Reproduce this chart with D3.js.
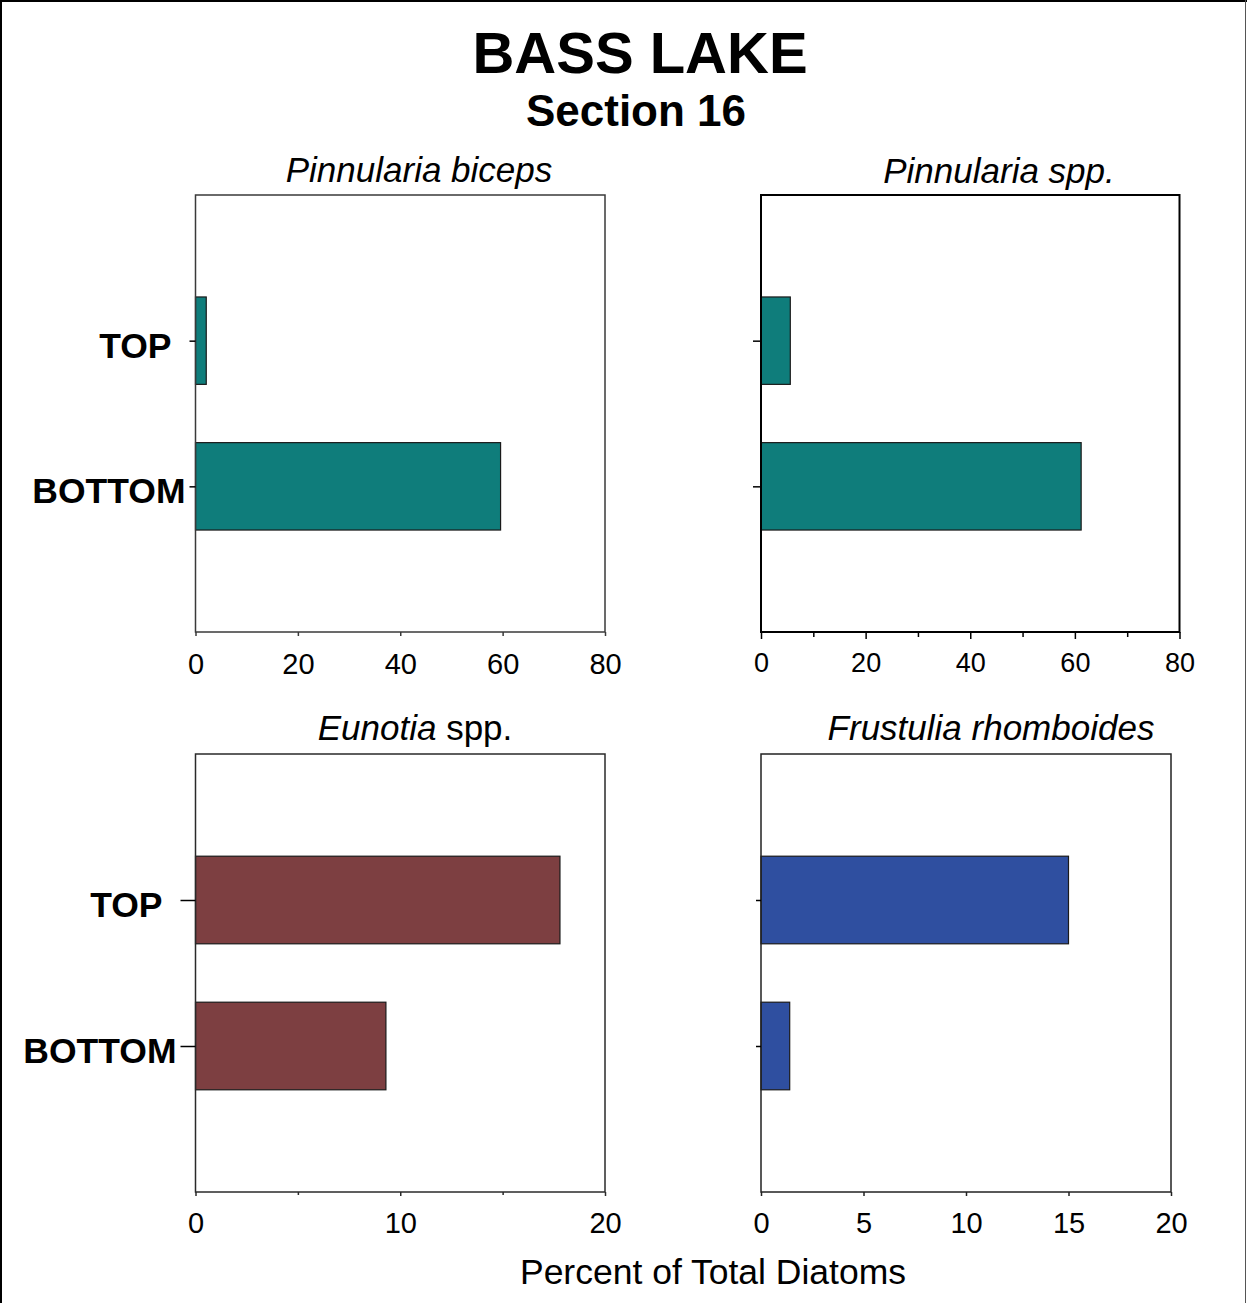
<!DOCTYPE html>
<html>
<head>
<meta charset="utf-8">
<script src="https://cdn.jsdelivr.net/npm/d3@7"></script>
<style>
  html, body { margin: 0; padding: 0; background: #fff; }
  svg { display: block; font-family: "Liberation Sans", Arial, Helvetica, sans-serif; }
</style>
</head>
<body>
<svg id="chart" width="1247" height="1303"></svg>
<script>
// Sample depths (category axis)
const depths = ["TOP", "BOTTOM"];

// Percent of total diatoms for each taxon, in depth order
const pinnulariaBiceps = [2.1, 59.6];
const pinnulariaSpp = [5.6, 61.2];
const eunotiaSpp = [17.8, 9.3];
const frustuliaRhomboides = [15.0, 1.4];

// Axis ticks
const ticks80 = [0, 20, 40, 60, 80];
const minor80 = [10, 30, 50, 70];
const ticks20Coarse = [0, 10, 20];
const minor20Coarse = [5, 15];
const ticks20Fine = [0, 5, 10, 15, 20];

const mainTitle = "BASS LAKE";
const subTitle = "Section 16";
const xAxisTitle = "Percent of Total Diatoms";

const svg = d3.select("#chart");
const W = 1247, H = 1303;

svg.append("rect").attr("width", W).attr("height", H).attr("fill", "#fff");

// page frame
svg.append("line").attr("x1", 1).attr("x2", 1).attr("y1", 0).attr("y2", H)
  .attr("stroke", "#000").attr("stroke-width", 2);
svg.append("line").attr("x1", 0).attr("x2", W).attr("y1", 1).attr("y2", 1)
  .attr("stroke", "#000").attr("stroke-width", 2);
svg.append("line").attr("x1", 1245.5).attr("x2", 1245.5).attr("y1", 0).attr("y2", H)
  .attr("stroke", "#555").attr("stroke-width", 1);

// headings
svg.append("text").attr("x", 640).attr("y", 73).attr("text-anchor", "middle")
  .attr("font-size", 58).attr("font-weight", "bold").text(mainTitle);
svg.append("text").attr("x", 636).attr("y", 126).attr("text-anchor", "middle")
  .attr("font-size", 44).attr("font-weight", "bold").text(subTitle);

const panels = [
  { title: [["Pinnularia biceps", "italic"]], values: pinnulariaBiceps, color: "#0F7D7B",
    x0: 195.5, x1: 605, y0: 195, y1: 632, max: 80, ticks: ticks80, minor: [],
    frame: "#3a3a3a", frameW: 1.5, tickFont: 29, labelY: 674, tickLen: 4, yTickLen: 6,
    showY: true, titleX: 419, titleY: 182 },
  { title: [["Pinnularia spp.", "italic"]], values: pinnulariaSpp, color: "#0F7D7B",
    x0: 761, x1: 1179.5, y0: 195, y1: 632, max: 80, ticks: ticks80, minor: minor80,
    frame: "#000", frameW: 2, tickFont: 27, labelY: 672, tickLen: 7, minorLen: 5, yTickLen: 8,
    showY: false, titleX: 999, titleY: 183 },
  { title: [["Eunotia", "italic"], [" spp.", "normal"]], values: eunotiaSpp, color: "#7D3F41",
    x0: 195.5, x1: 605, y0: 754, y1: 1192, max: 20, ticks: ticks20Coarse, minor: minor20Coarse,
    frame: "#2a2a2a", frameW: 1.5, tickFont: 29, labelY: 1233, tickLen: 4, minorLen: 3, yTickLen: 15,
    showY: true, titleX: 415, titleY: 740 },
  { title: [["Frustulia rhomboides", "italic"]], values: frustuliaRhomboides, color: "#2F4FA0",
    x0: 761, x1: 1171, y0: 754, y1: 1192, max: 20, ticks: ticks20Fine, minor: [],
    frame: "#222", frameW: 1.5, tickFont: 29, labelY: 1233, tickLen: 4, yTickLen: 5,
    showY: false, titleX: 991, titleY: 740 }
];

panels.forEach(p => {
  const g = svg.append("g");
  const x = d3.scaleLinear().domain([0, p.max]).range([p.x0, p.x1]);
  const y = d3.scalePoint().domain(depths).range([p.y0, p.y1]).padding(1);
  const barH = y.step() * 0.6;

  // panel title
  const t = g.append("text").attr("x", p.titleX).attr("y", p.titleY)
    .attr("text-anchor", "middle").attr("font-size", 35);
  p.title.forEach(([s, style]) => t.append("tspan").attr("font-style", style).text(s));

  // bars
  g.selectAll("rect.bar").data(depths.map((d, i) => ({ d, v: p.values[i] })))
    .join("rect").attr("class", "bar")
    .attr("x", x(0))
    .attr("y", d => y(d.d) - barH / 2)
    .attr("width", d => x(d.v) - x(0))
    .attr("height", barH)
    .attr("fill", p.color)
    .attr("stroke", "#1a1a1a").attr("stroke-width", 1.2);

  // plot frame
  g.append("rect").attr("x", p.x0).attr("y", p.y0)
    .attr("width", p.x1 - p.x0).attr("height", p.y1 - p.y0)
    .attr("fill", "none").attr("stroke", p.frame).attr("stroke-width", p.frameW);

  // bottom axis: major ticks
  const xa = g.append("g").attr("transform", `translate(0,${p.y1})`)
    .call(d3.axisBottom(x).tickValues(p.ticks).tickSize(p.tickLen).tickSizeOuter(0)
      .tickFormat(d3.format("d")));
  xa.select(".domain").remove();
  xa.selectAll(".tick line").attr("stroke", p.frame).attr("stroke-width", 1.5);
  xa.selectAll(".tick text").attr("font-size", p.tickFont).attr("fill", "#000")
    .attr("font-family", null).attr("dy", null).attr("y", p.labelY - p.y1);

  // minor ticks
  if (p.minor.length) {
    const xm = g.append("g").attr("transform", `translate(0,${p.y1})`)
      .call(d3.axisBottom(x).tickValues(p.minor).tickSize(p.minorLen).tickFormat(""));
    xm.select(".domain").remove();
    xm.selectAll(".tick line").attr("stroke", p.frame).attr("stroke-width", 1.5);
  }

  // left axis
  const ya = g.append("g").attr("transform", `translate(${p.x0},0)`)
    .call(d3.axisLeft(y).tickSize(p.yTickLen).tickSizeOuter(0)
      .tickFormat(p.showY ? (d => d) : ""));
  ya.select(".domain").remove();
  ya.selectAll(".tick line").attr("stroke", "#000").attr("stroke-width", 1.5);
  ya.selectAll(".tick text")
    .attr("font-size", 35.5).attr("font-weight", "bold").attr("fill", "#000")
    .attr("font-family", null)
    .attr("dy", "0.46em")
    .attr("x", d => -(p.yTickLen + (d === "TOP" ? 18 : 4)));
});

// shared x-axis title
svg.append("text").attr("x", 713).attr("y", 1284).attr("text-anchor", "middle")
  .attr("font-size", 35.5).text(xAxisTitle);
</script>
</body>
</html>
